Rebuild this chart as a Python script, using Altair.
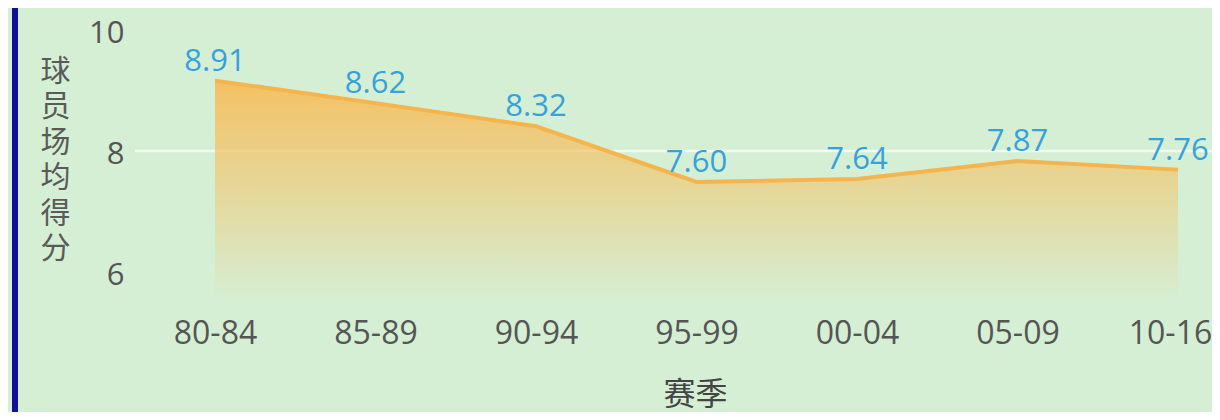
import altair as alt
import pandas as pd

# ---- data ----
seasons = ["80-84", "85-89", "90-94", "95-99", "00-04", "05-09", "10-16"]
scores = [8.91, 8.62, 8.32, 7.60, 7.64, 7.87, 7.76]
score_labels = ["8.91", "8.62", "8.32", "7.60", "7.64", "7.87", "7.76"]
y_ticks = [6, 8, 10]
grid_values = [8]
y_title = "球员场均得分"
x_title = "赛季"

Y_MIN, Y_MAX = 6.1, 9.85

df = pd.DataFrame({"season": seasons, "score": scores, "label": score_labels})
ticks_df = pd.DataFrame({"tick": y_ticks})
grid_df = pd.DataFrame({"g": grid_values})
one_df = pd.DataFrame({"k": [0]})

FONT = "Open Sans"
CJK = "Noto Sans CJK SC"
BG = "#d5efd4"

x_enc = alt.X(
    "season:N",
    sort=seasons,
    scale=alt.Scale(type="point", range=[80, 1043], padding=0),
    axis=alt.Axis(
        labelAngle=0, ticks=False, domain=False, grid=False,
        labelFont=FONT, labelFontSize=32, labelColor="#555555", labelPadding=20,
        labelOffset=alt.expr("datum.value == '10-16' ? -8 : 0"),
        title=x_title, titleFont=CJK, titleFontSize=32, titleFontWeight="normal",
        titleColor="#444444", titleX=560, titleY=96, titleAlign="center",
        titleBaseline="middle",
    ),
)

# axis layer (labels of the left axis)
axis_layer = alt.Chart(ticks_df).mark_point(opacity=0).encode(
    y=alt.Y(
        "tick:Q",
        scale=alt.Scale(domain=[6, 10], range=[267, 25], nice=False, zero=False),
        axis=alt.Axis(
            values=y_ticks, orient="left", grid=False, ticks=False, domain=False,
            labelFont=FONT, labelFontSize=31, labelColor="#555555", labelPadding=11,
            title=list(y_title), titleAngle=0, titleX=-80, titleY=48,
            titleAlign="center", titleBaseline="top", titleFont=CJK,
            titleFontSize=30, titleLineHeight=35.5, titleColor="#5a5a5a",
            titleFontWeight="normal",
        ),
    )
)

y_scale = alt.Scale(domain=[Y_MIN, Y_MAX], nice=False, zero=False)

grid = alt.Chart(grid_df).mark_rule(color="#ffffff", strokeWidth=2.5, opacity=0.7).encode(
    y=alt.Y("g:Q", scale=y_scale, axis=None)
)

gradient = alt.Gradient(
    gradient="linear",
    stops=[
        alt.GradientStop(color="rgba(246,190,92,0.95)", offset=0),
        alt.GradientStop(color="rgba(246,190,92,0.03)", offset=1),
    ],
    x1=0, x2=0, y1=0, y2=1,
)

base = alt.Chart(df).encode(x=x_enc)
area = base.mark_area(color=gradient).encode(
    y=alt.Y("score:Q", scale=y_scale, axis=None),
    y2=alt.datum(Y_MIN),
)
line = base.mark_line(color="#f6b44c", strokeWidth=4).encode(
    y=alt.Y("score:Q", scale=y_scale, axis=None)
)
text = base.mark_text(
    dy=-3, baseline="bottom", font=FONT, fontSize=31, color="#35a2dc"
).encode(y=alt.Y("score:Q", scale=y_scale, axis=None), text="label:N")

border = alt.Chart(one_df).mark_rule(color="#10109c", strokeWidth=6).encode(
    x=alt.value(-120), y=alt.value(0), y2=alt.value(404)
)

data_layer = alt.layer(grid, area, line, text, border)

chart = (
    alt.layer(axis_layer, data_layer)
    .resolve_scale(y="independent")
    .properties(
        width=1077,
        height=290,
        autosize=alt.AutoSizeParams(type="none"),
        padding={"left": 127, "top": 0, "right": 0, "bottom": 114},
        background=BG,
    )
    .configure_view(stroke=None)
)

chart.save("out.html", embed_options={"renderer": "svg", "actions": False})
